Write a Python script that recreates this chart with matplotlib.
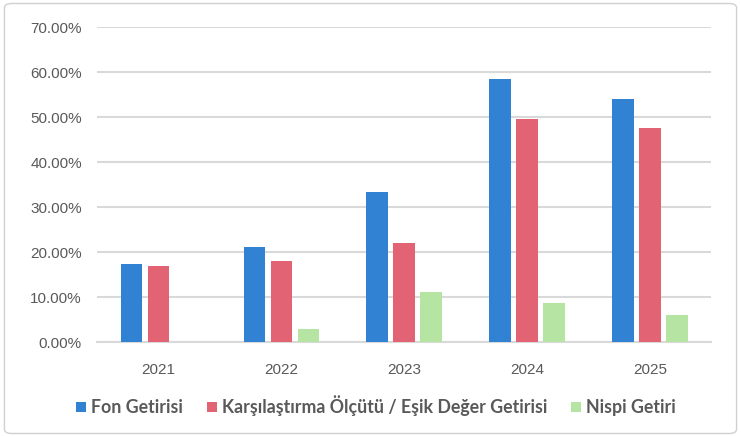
import matplotlib.pyplot as plt
from matplotlib.patches import FancyBboxPatch
from matplotlib.ticker import PercentFormatter
import numpy as np

years = ['2021', '2022', '2023', '2024', '2025']
fon = [17.3, 21.1, 33.3, 58.4, 54.0]
esik = [17.0, 18.0, 22.0, 49.5, 47.6]
nispi = [0.0, 3.0, 11.1, 8.7, 6.0]

names = ['Fon Getirisi', 'Karşılaştırma Ölçütü / Eşik Değer Getirisi', 'Nispi Getiri']
colors = ['#3182D2', '#E26374', '#B6E5A3']

plt.rcParams['font.family'] = ['Liberation Sans', 'DejaVu Sans']

fig = plt.figure(figsize=(7.41, 4.37), dpi=100)
# light rounded border around the chart
border = FancyBboxPatch((0.006, 0.008), 0.988, 0.984, boxstyle='round,pad=0,rounding_size=0.01',
                        transform=fig.transFigure, fill=False, edgecolor='#D0D0D0', linewidth=1)
fig.patches.append(border)

ax = fig.add_axes([0.131, 0.217, 0.829, 0.721])
x = np.arange(len(years))
w = 0.175
step = 0.22
for i, (vals, c, n) in enumerate(zip([fon, esik, nispi], colors, names)):
    ax.bar(x + (i - 1) * step, vals, width=w, color=c, label=n, zorder=3)

ax.set_xlim(-0.5, 4.5)
ax.set_ylim(0, 70)
ax.set_yticks(np.arange(0, 71, 10))
ax.yaxis.set_major_formatter(PercentFormatter(decimals=2))
ax.set_xticks(x)
ax.set_xticklabels(years)
ax.grid(axis='y', color='#D9D9D9', linewidth=1.5, zorder=0)
for s in ['top', 'right', 'left']:
    ax.spines[s].set_visible(False)
ax.spines['bottom'].set_color('#D9D9D9')
ax.spines['bottom'].set_linewidth(1.5)
ax.tick_params(axis='both', length=0, labelsize=11, labelcolor='#595959')
ax.tick_params(axis='y', pad=11)
ax.tick_params(axis='x', pad=15)

fig.legend(loc='center', bbox_to_anchor=(0.507, 0.071), ncol=3, frameon=False,
           prop={'family': ['Lato', 'DejaVu Sans'], 'size': 12.8, 'weight': 'bold'},
           labelcolor='#595959',
           handlelength=0.56, handleheight=0.5, handletextpad=0.28, columnspacing=1.35)

fig.savefig('out.png', dpi=100)
